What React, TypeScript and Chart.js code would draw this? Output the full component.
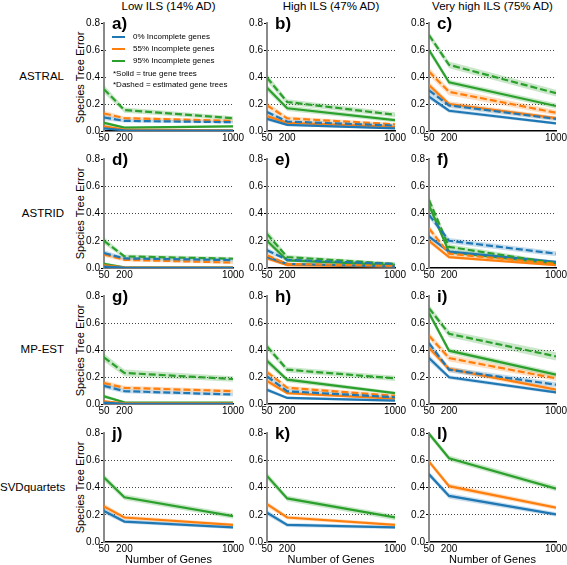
import React, { useEffect, useRef } from "react";
import { Chart, registerables } from "chart.js";

Chart.register(...registerables);

// ---------- data ----------
const genes = [50, 200, 1000];
const geneTicks = [50, 200, 1000];
const errorTicks = [0, 0.1, 0.2, 0.3, 0.4, 0.5, 0.6, 0.7, 0.8];
const ilsLevels = ["Low ILS (14% AD)", "High ILS (47% AD)", "Very high ILS (75% AD)"];
const methods = ["ASTRAL", "ASTRID", "MP-EST", "SVDquartets"];
const panelLetters = ["a)", "b)", "c)", "d)", "e)", "f)", "g)", "h)", "i)", "j)", "k)", "l)"];
const incompleteLabels = ["0% Incomplete genes", "55% Incomplete genes", "95% Incomplete genes"];
const treeNotes = ["*Solid = true gene trees", "*Dashed = estimated gene trees"];
const yTitle = "Species Tree Error";
const xTitle = "Number of Genes";

// series order inside each array: [0%, 55%, 95%]
// ASTRAL
const astralLowTrue = [[0.02, 0.005, 0.003], [0.035, 0.01, 0.005], [0.06, 0.025, 0.035]];
const astralLowEst = [[0.1, 0.075, 0.065], [0.13, 0.095, 0.075], [0.31, 0.155, 0.095]];
const astralLowTrueCI = [[0.01, 0.005, 0.003], [0.012, 0.006, 0.004], [0.015, 0.008, 0.008]];
const astralLowEstCI = [[0.02, 0.012, 0.01], [0.02, 0.012, 0.01], [0.03, 0.02, 0.015]];

const astralHighTrue = [[0.09, 0.045, 0.02], [0.11, 0.06, 0.03], [0.32, 0.168, 0.08]];
const astralHighEst = [[0.14, 0.07, 0.04], [0.19, 0.094, 0.05], [0.395, 0.215, 0.12]];
const astralHighTrueCI = [[0.015, 0.01, 0.006], [0.02, 0.01, 0.008], [0.025, 0.02, 0.015]];
const astralHighEstCI = [[0.02, 0.012, 0.01], [0.025, 0.015, 0.01], [0.03, 0.02, 0.018]];

const astralVHighTrue = [[0.255, 0.15, 0.057], [0.34, 0.2, 0.095], [0.6, 0.36, 0.185]];
const astralVHighEst = [[0.3, 0.19, 0.09], [0.44, 0.29, 0.135], [0.71, 0.49, 0.28]];
const astralVHighTrueCI = [[0.02, 0.015, 0.01], [0.025, 0.02, 0.015], [0.025, 0.02, 0.02]];
const astralVHighEstCI = [[0.025, 0.02, 0.015], [0.03, 0.025, 0.02], [0.025, 0.025, 0.025]];

// ASTRID
const astridLowTrue = [[0.01, 0.003, 0.002], [0.02, 0.005, 0.003], [0.03, 0.005, 0.003]];
const astridLowEst = [[0.11, 0.07, 0.058], [0.1, 0.06, 0.04], [0.2, 0.085, 0.068]];
const astridLowTrueCI = [[0.008, 0.003, 0.002], [0.01, 0.004, 0.003], [0.012, 0.004, 0.003]];
const astridLowEstCI = [[0.02, 0.012, 0.012], [0.02, 0.012, 0.01], [0.025, 0.015, 0.012]];

const astridHighTrue = [[0.08, 0.03, 0.01], [0.07, 0.02, 0.01], [0.2, 0.056, 0.02]];
const astridHighEst = [[0.13, 0.06, 0.03], [0.093, 0.03, 0.015], [0.25, 0.08, 0.03]];
const astridHighTrueCI = [[0.015, 0.008, 0.005], [0.015, 0.008, 0.005], [0.025, 0.012, 0.008]];
const astridHighEstCI = [[0.02, 0.01, 0.008], [0.018, 0.008, 0.006], [0.03, 0.015, 0.01]];

const astridVHighTrue = [[0.23, 0.12, 0.045], [0.2, 0.08, 0.02], [0.46, 0.118, 0.03]];
const astridVHighEst = [[0.39, 0.2, 0.105], [0.29, 0.105, 0.03], [0.5, 0.155, 0.035]];
const astridVHighTrueCI = [[0.02, 0.015, 0.01], [0.02, 0.012, 0.008], [0.03, 0.015, 0.01]];
const astridVHighEstCI = [[0.025, 0.02, 0.018], [0.025, 0.015, 0.01], [0.03, 0.02, 0.012]];

// MP-EST
const mpestLowTrue = [[0.01, 0.002, 0.002], [0.02, 0.005, 0.004], [0.057, 0.012, 0.01]];
const mpestLowEst = [[0.135, 0.095, 0.07], [0.155, 0.12, 0.095], [0.345, 0.23, 0.185]];
const mpestLowTrueCI = [[0.008, 0.003, 0.002], [0.01, 0.004, 0.003], [0.015, 0.005, 0.004]];
const mpestLowEstCI = [[0.02, 0.015, 0.012], [0.02, 0.015, 0.015], [0.03, 0.025, 0.02]];

const mpestHighTrue = [[0.106, 0.045, 0.025], [0.17, 0.08, 0.04], [0.32, 0.18, 0.08]];
const mpestHighEst = [[0.205, 0.094, 0.05], [0.237, 0.12, 0.06], [0.427, 0.254, 0.19]];
const mpestHighTrueCI = [[0.015, 0.01, 0.008], [0.02, 0.012, 0.01], [0.025, 0.018, 0.012]];
const mpestHighEstCI = [[0.02, 0.015, 0.01], [0.02, 0.015, 0.012], [0.025, 0.02, 0.02]];

const mpestVHighTrue = [[0.34, 0.198, 0.086], [0.415, 0.26, 0.106], [0.674, 0.395, 0.217]];
const mpestVHighEst = [[0.45, 0.254, 0.143], [0.506, 0.34, 0.19], [0.71, 0.52, 0.353]];
const mpestVHighTrueCI = [[0.025, 0.015, 0.012], [0.025, 0.02, 0.015], [0.025, 0.02, 0.02]];
const mpestVHighEstCI = [[0.025, 0.02, 0.02], [0.025, 0.025, 0.02], [0.025, 0.025, 0.03]];

// SVDquartets (true gene trees only)
const svdLowTrue = [[0.228, 0.15, 0.107], [0.26, 0.18, 0.125], [0.473, 0.328, 0.19]];
const svdLowTrueCI = [[0.02, 0.015, 0.012], [0.02, 0.015, 0.012], [0.025, 0.02, 0.02]];

const svdHighTrue = [[0.215, 0.125, 0.108], [0.277, 0.18, 0.125], [0.485, 0.32, 0.18]];
const svdHighTrueCI = [[0.02, 0.015, 0.012], [0.02, 0.015, 0.012], [0.025, 0.02, 0.02]];

const svdVHighTrue = [[0.497, 0.338, 0.203], [0.59, 0.41, 0.252], [0.794, 0.615, 0.392]];
const svdVHighTrueCI = [[0.02, 0.02, 0.015], [0.02, 0.02, 0.015], [0.02, 0.02, 0.02]];

// ---------- style ----------
const FONT = '"Liberation Sans", Arial, Helvetica, sans-serif';
const lineColors = ["#1f77b4", "#ff7f0e", "#2ca02c"];
const bandColors = ["rgba(31,119,180,0.25)", "rgba(255,127,14,0.25)", "rgba(44,160,44,0.25)"];

const cols = [
  { left: 104, w: 129 },
  { left: 267, w: 128 },
  { left: 429, w: 127 },
];
const rows = [
  { top: 23, h: 108 },
  { top: 159, h: 109 },
  { top: 296, h: 108 },
  { top: 433, h: 109 },
];
const Y_AXIS_W = 30;
const PAD_TOP = 8;
const PAD_RIGHT = 14;
const X_AXIS_H = 14;

type PanelData = {
  trueVals: number[][];
  estVals: number[][] | null;
  trueCI: number[][];
  estCI: number[][] | null;
};

const panels: PanelData[] = [
  { trueVals: astralLowTrue, estVals: astralLowEst, trueCI: astralLowTrueCI, estCI: astralLowEstCI },
  { trueVals: astralHighTrue, estVals: astralHighEst, trueCI: astralHighTrueCI, estCI: astralHighEstCI },
  { trueVals: astralVHighTrue, estVals: astralVHighEst, trueCI: astralVHighTrueCI, estCI: astralVHighEstCI },
  { trueVals: astridLowTrue, estVals: astridLowEst, trueCI: astridLowTrueCI, estCI: astridLowEstCI },
  { trueVals: astridHighTrue, estVals: astridHighEst, trueCI: astridHighTrueCI, estCI: astridHighEstCI },
  { trueVals: astridVHighTrue, estVals: astridVHighEst, trueCI: astridVHighTrueCI, estCI: astridVHighEstCI },
  { trueVals: mpestLowTrue, estVals: mpestLowEst, trueCI: mpestLowTrueCI, estCI: mpestLowEstCI },
  { trueVals: mpestHighTrue, estVals: mpestHighEst, trueCI: mpestHighTrueCI, estCI: mpestHighEstCI },
  { trueVals: mpestVHighTrue, estVals: mpestVHighEst, trueCI: mpestVHighTrueCI, estCI: mpestVHighEstCI },
  { trueVals: svdLowTrue, estVals: null, trueCI: svdLowTrueCI, estCI: null },
  { trueVals: svdHighTrue, estVals: null, trueCI: svdHighTrueCI, estCI: null },
  { trueVals: svdVHighTrue, estVals: null, trueCI: svdVHighTrueCI, estCI: null },
];

function buildDatasets(p: PanelData) {
  const lines: any[] = [];
  const bands: any[] = [];
  const addGroup = (vals: number[][], ci: number[][], dashed: boolean) => {
    vals.forEach((series, k) => {
      lines.push({
        data: genes.map((g, i) => ({ x: g, y: series[i] })),
        borderColor: lineColors[k],
        backgroundColor: lineColors[k],
        borderWidth: 2.2,
        borderDash: dashed ? [7, 3] : [],
        pointRadius: 0,
        fill: false,
        tension: 0,
        order: 0,
      });
      bands.push({
        data: genes.map((g, i) => ({ x: g, y: series[i] + ci[k][i] })),
        borderColor: "rgba(0,0,0,0)",
        borderWidth: 0,
        backgroundColor: bandColors[k],
        pointRadius: 0,
        fill: "+1",
        tension: 0,
        order: 1,
      });
      bands.push({
        data: genes.map((g, i) => ({ x: g, y: series[i] - ci[k][i] })),
        borderColor: "rgba(0,0,0,0)",
        borderWidth: 0,
        backgroundColor: "rgba(0,0,0,0)",
        pointRadius: 0,
        fill: false,
        tension: 0,
        order: 1,
      });
    });
  };
  if (p.estVals && p.estCI) addGroup(p.estVals, p.estCI, true);
  addGroup(p.trueVals, p.trueCI, false);
  // bands keep upper/lower adjacency for fill '+1'
  return [...bands, ...lines];
}

function Panel({ data, col, row }: { data: PanelData; col: number; row: number }) {
  const ref = useRef<HTMLCanvasElement | null>(null);
  const c = cols[col];
  const r = rows[row];
  const width = c.w + Y_AXIS_W + PAD_RIGHT;
  const height = r.h + PAD_TOP + X_AXIS_H;

  useEffect(() => {
    if (!ref.current) return;
    const chart = new Chart(ref.current, {
      type: "line",
      data: { datasets: buildDatasets(data) as any },
      options: {
        responsive: false,
        animation: false,
        devicePixelRatio: 1,
        layout: { padding: { top: PAD_TOP, right: PAD_RIGHT, left: 0, bottom: 0 } },
        plugins: { legend: { display: false }, tooltip: { enabled: false }, title: { display: false } },
        scales: {
          x: {
            type: "linear",
            min: 50,
            max: 1000,
            afterBuildTicks: (s: any) => {
              s.ticks = geneTicks.map((v) => ({ value: v }));
            },
            afterFit: (s: any) => {
              s.height = X_AXIS_H;
            },
            ticks: {
              autoSkip: false,
              maxRotation: 0,
              padding: 1,
              color: "#000",
              font: { family: FONT, size: 10 },
              callback: (v: any) => String(v),
            },
            grid: { display: false, drawTicks: false },
            border: { display: true, color: "#000", width: 1.5 },
          },
          y: {
            type: "linear",
            min: 0,
            max: 0.8,
            afterBuildTicks: (s: any) => {
              s.ticks = errorTicks.map((v) => ({ value: v }));
            },
            afterFit: (s: any) => {
              s.width = Y_AXIS_W;
            },
            ticks: {
              padding: 1,
              color: "#000",
              font: { family: FONT, size: 10 },
              callback: (v: any) => Number(v).toFixed(1),
            },
            grid: {
              color: (ctx: any) => {
                const v = ctx.tick ? ctx.tick.value : -1;
                return v < 0.05 || v > 0.75 ? "rgba(0,0,0,0)" : "#444";
              },
              lineWidth: 1,
              drawTicks: true,
              tickLength: 3,
              tickColor: "#000",
              tickWidth: 1,
            },
            border: { display: true, color: "#8a8a8a", width: 2, dash: [1, 2] },
          },
        },
      } as any,
    });
    return () => chart.destroy();
  }, [data]);

  return (
    <canvas
      ref={ref}
      width={width}
      height={height}
      style={{
        position: "absolute",
        left: c.left - Y_AXIS_W,
        top: r.top - PAD_TOP,
        width,
        height,
      }}
    />
  );
}

const textBase: React.CSSProperties = {
  position: "absolute",
  fontFamily: FONT,
  color: "#000",
  whiteSpace: "nowrap",
  lineHeight: 1,
};

export default function App() {
  return (
    <div
      style={{
        position: "absolute",
        left: 0,
        top: 0,
        width: 567,
        height: 565,
        background: "#fff",
        overflow: "hidden",
      }}
    >
      {/* column headers */}
      {ilsLevels.map((t, i) => (
        <div
          key={"h" + i}
          style={{
            ...textBase,
            fontSize: 11.5,
            top: 1,
            left: cols[i].left + cols[i].w / 2 - 80,
            width: 160,
            textAlign: "center",
          }}
        >
          {t}
        </div>
      ))}

      {/* row labels and y titles */}
      {methods.map((m, j) => (
        <React.Fragment key={"r" + j}>
          <div
            style={{
              ...textBase,
              fontSize: 11.5,
              left: 0,
              width: 64,
              textAlign: "right",
              top: rows[j].top + rows[j].h / 2 - 6,
            }}
          >
            {m}
          </div>
          <div
            style={{
              ...textBase,
              fontSize: 11,
              width: 120,
              textAlign: "center",
              left: 80 - 60,
              top: rows[j].top + rows[j].h / 2 - 5.5,
              transform: "rotate(-90deg)",
              transformOrigin: "50% 50%",
            }}
          >
            {yTitle}
          </div>
        </React.Fragment>
      ))}

      {/* panels */}
      {panels.map((p, idx) => (
        <Panel key={"p" + idx} data={p} col={idx % 3} row={Math.floor(idx / 3)} />
      ))}

      {/* legend box (covers gridlines) in panel a */}
      <div
        style={{
          position: "absolute",
          left: 107,
          top: 30,
          width: 126,
          height: 59,
          background: "#fff",
        }}
      />

      {/* panel letters */}
      {panelLetters.map((l, idx) => {
        const c = cols[idx % 3];
        const r = rows[Math.floor(idx / 3)];
        return (
          <div
            key={"l" + idx}
            style={{
              ...textBase,
              fontSize: 17,
              fontWeight: "bold",
              left: c.left + 8,
              top: r.top - 8,
            }}
          >
            {l}
          </div>
        );
      })}

      {/* legend entries */}
      {incompleteLabels.map((t, k) => (
        <React.Fragment key={"lg" + k}>
          <div
            style={{
              position: "absolute",
              left: 112,
              top: 36 + k * 12,
              width: 13,
              height: 0,
              borderTop: `2px solid ${lineColors[k]}`,
            }}
          />
          <div style={{ ...textBase, fontSize: 8, left: 133, top: 33 + k * 12 }}>{t}</div>
        </React.Fragment>
      ))}
      {treeNotes.map((t, k) => (
        <div key={"tn" + k} style={{ ...textBase, fontSize: 8, left: 113, top: 69.5 + k * 11 }}>
          {t}
        </div>
      ))}

      {/* x titles */}
      {cols.map((c, i) => (
        <div
          key={"x" + i}
          style={{
            ...textBase,
            fontSize: 11,
            top: 554,
            left: c.left + c.w / 2 - 60,
            width: 120,
            textAlign: "center",
          }}
        >
          {xTitle}
        </div>
      ))}
    </div>
  );
}
